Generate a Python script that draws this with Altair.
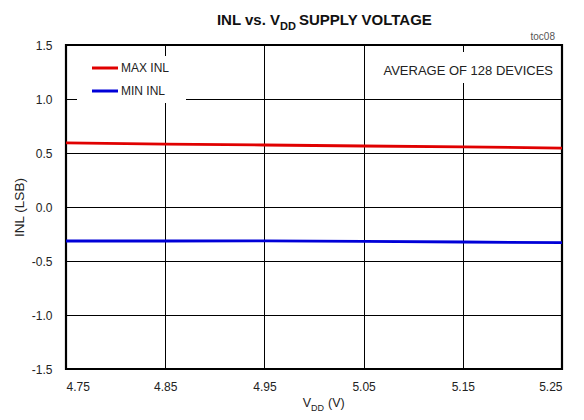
import altair as alt
import pandas as pd

# ---- data ----
vdd = [4.75, 4.85, 4.95, 5.05, 5.15, 5.25]
max_inl = [0.593, 0.583, 0.574, 0.565, 0.556, 0.546]
min_inl = [-0.315, -0.315, -0.313, -0.318, -0.324, -0.330]
series_names = ["MAX INL", "MIN INL"]
series_colors = ["#e00000", "#0000d8"]
x_ticks = [4.75, 4.85, 4.95, 5.05, 5.15, 5.25]
y_ticks = [-1.5, -1.0, -0.5, 0.0, 0.5, 1.0, 1.5]
title_parts = ["INL vs. V", "DD", "SUPPLY VOLTAGE"]
xtitle_parts = ["V", "DD", "(V)"]
ytitle = "INL (LSB)"
note = "AVERAGE OF 128 DEVICES"
fig_id = "toc08"

W, H = 496, 324

df = pd.DataFrame({
    "vdd": vdd * 2,
    "inl": max_inl + min_inl,
    "series": [series_names[0]] * len(vdd) + [series_names[1]] * len(vdd),
})

color_scale = alt.Scale(domain=series_names, range=series_colors)

xaxis = alt.Axis(values=x_ticks, format=".2f", title=None, grid=True, ticks=False,
                 domain=False, labelPadding=12, labelFontSize=12, labelColor="#222",
                 labelFont="Liberation Sans", gridColor="#000", gridWidth=1, gridOpacity=1)
yaxis = alt.Axis(values=y_ticks, title=ytitle, grid=True, ticks=False, domain=False,
                 labelExpr="replace(format(datum.value, '.1f'), '\u2212', '-')",
                 labelPadding=14, labelFontSize=12, labelColor="#222", labelFont="Liberation Sans",
                 titleFont="Liberation Sans", titleFontSize=13.5, titleFontWeight="normal",
                 titleColor="#222", titlePadding=5, gridColor="#000", gridWidth=1, gridOpacity=1)

lines = alt.Chart(df).mark_line(strokeWidth=2.8).encode(
    x=alt.X("vdd:Q", scale=alt.Scale(domain=[4.75, 5.25], nice=False, zero=False), axis=xaxis),
    y=alt.Y("inl:Q", scale=alt.Scale(domain=[-1.5, 1.5], nice=False, zero=False), axis=yaxis),
    color=alt.Color("series:N", scale=color_scale, legend=None),
)

one = pd.DataFrame({"k": [0]})

def white_box(x0, x1, y0, y1):
    return alt.Chart(one).mark_rect(fill="white").encode(
        x=alt.value(x0), x2=alt.value(x1), y=alt.value(y0), y2=alt.value(y1))

legend_box = white_box(11, 120, 11, 58)
note_box = white_box(310, 490, 7, 38)

leg_df = pd.DataFrame({"series": series_names, "row": [0, 1]})
leg_base = alt.Chart(leg_df).transform_calculate(ly="23 + 23 * datum.row")
leg_rules = leg_base.mark_rule(strokeWidth=3).encode(
    x=alt.value(26), x2=alt.value(52),
    y=alt.Y("ly:Q", scale=None),
    color=alt.Color("series:N", scale=color_scale, legend=None),
)
leg_text = leg_base.mark_text(align="left", baseline="middle", font="Liberation Sans",
                              fontSize=12, color="#222").encode(
    x=alt.value(55), y=alt.Y("ly:Q", scale=None), text="series:N")

def txt(s, x, y, size, align="left", weight="normal", font="Liberation Sans", color="#222"):
    return alt.Chart(pd.DataFrame({"t": [s]})).mark_text(
        align=align, baseline="alphabetic", fontSize=size, fontWeight=weight, font=font,
        color=color).encode(x=alt.value(x), y=alt.value(y), text="t:N")

tfont = "Liberation Sans"
title1 = txt(title_parts[0], 214, -20, 15, "right", "bold", tfont, "#111")
title2 = txt(title_parts[1], 214, -15, 11, "left", "bold", tfont, "#111")
title3 = txt(title_parts[2], 233, -20, 15, "left", "bold", tfont, "#111")

xt1 = txt(xtitle_parts[0], 245, 362, 12.5, "right")
xt2 = txt(xtitle_parts[1], 245, 366, 9, "left")
xt3 = txt(xtitle_parts[2], 262, 362, 12.5, "left")

note_t = txt(note, 487, 30, 13, "right")
fig_t = txt(fig_id, 489, -5, 10, "right", color="#555")

chart = alt.layer(
    legend_box, note_box, lines, leg_rules, leg_text,
    title1, title2, title3, xt1, xt2, xt3, note_t, fig_t,
).properties(
    width=W, height=H,
    padding={"left": 58, "top": 37, "right": 14, "bottom": 49},
    autosize=alt.AutoSizeParams(type="none"),
    background="white",
).configure_view(
    stroke="#000", strokeWidth=2.2,
).configure_text(limit=0)

chart.save("out.html", embed_options={"renderer": "svg", "actions": False})
